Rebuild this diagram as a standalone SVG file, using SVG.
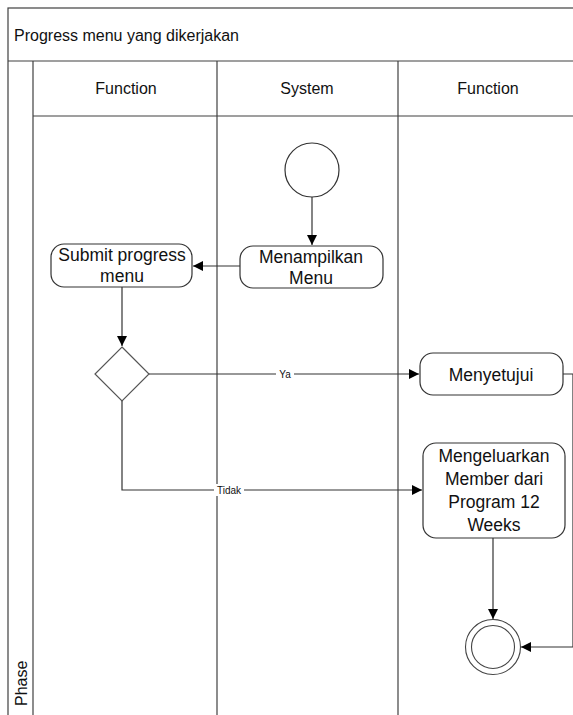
<svg xmlns="http://www.w3.org/2000/svg" width="573" height="715" viewBox="0 0 573 715">
<style>
.frame{fill:none;stroke:#404040;stroke-width:1.2}
.t{font-family:"Liberation Sans",Arial,sans-serif;fill:#111}
.hdr{font-size:16px;text-anchor:middle}
.node{fill:#fff;stroke:#333;stroke-width:1.2}
.nt{font-size:17.5px;text-anchor:middle}
.c{fill:none;stroke:#333;stroke-width:1.2}
.lbl{font-size:10px;text-anchor:middle}
</style>
<defs>
<marker id="ah" viewBox="0 0 10 10" refX="10" refY="5" markerWidth="10" markerHeight="10" markerUnits="userSpaceOnUse" orient="auto">
<path d="M0,0 L10,5 L0,10 z" fill="#000"/>
</marker>
</defs>
<rect width="573" height="715" fill="#fff"/>
<g id="pool">
<rect class="frame" x="8" y="8" width="580" height="720"/>
<line class="frame" x1="8" y1="61" x2="573" y2="61"/>
<line class="frame" x1="33" y1="61" x2="33" y2="715"/>
<line class="frame" x1="33" y1="116" x2="573" y2="116"/>
<line class="frame" x1="217" y1="61" x2="217" y2="715"/>
<line class="frame" x1="398" y1="61" x2="398" y2="715"/>
<text class="t" x="14" y="41" font-size="16">Progress menu yang dikerjakan</text>
<text class="t hdr" x="126" y="94">Function</text>
<text class="t hdr" x="307" y="94">System</text>
<text class="t hdr" x="488" y="94">Function</text>
<text class="t" font-size="16" transform="translate(27,706) rotate(-90)">Phase</text>
</g>
<g id="connectors">
<line class="c" x1="312" y1="197" x2="312" y2="245" marker-end="url(#ah)"/>
<line class="c" x1="240" y1="266" x2="193" y2="266" marker-end="url(#ah)"/>
<line class="c" x1="122" y1="287" x2="122" y2="346" marker-end="url(#ah)"/>
<line class="c" x1="149" y1="374" x2="419" y2="374" marker-end="url(#ah)"/>
<polyline class="c" points="122,401 122,490 422,490" marker-end="url(#ah)"/>
<line class="c" x1="493" y1="538" x2="493" y2="619" marker-end="url(#ah)"/>
<polyline class="c" points="563,374 573,374 573,647 521,647" marker-end="url(#ah)"/>
<rect x="276" y="368" width="18" height="12" fill="#fff"/>
<text class="t lbl" x="285" y="378">Ya</text>
<rect x="214" y="484" width="30" height="12" fill="#fff"/>
<text class="t lbl" x="229" y="494">Tidak</text>
</g>
<g id="start">
<circle class="node" cx="312" cy="170" r="27"/>
</g>
<g id="menampilkan">
<rect class="node" x="240" y="246" width="143" height="42" rx="13"/>
<text class="t nt" x="311" y="263">Menampilkan</text>
<text class="t nt" x="311" y="284">Menu</text>
</g>
<g id="submit">
<rect class="node" x="51" y="244" width="141" height="43" rx="13"/>
<text class="t nt" x="122" y="261">Submit progress</text>
<text class="t nt" x="122" y="282">menu</text>
</g>
<g id="decision">
<polygon points="122,347 149,374 122,401 95,374" fill="#fff" stroke="#555" stroke-width="1.2"/>
</g>
<g id="menyetujui">
<rect class="node" x="420" y="353" width="143" height="42" rx="13"/>
<text class="t nt" x="491" y="381">Menyetujui</text>
</g>
<g id="mengeluarkan">
<rect class="node" x="423" y="443" width="142" height="95" rx="13"/>
<text class="t nt" x="494" y="462">Mengeluarkan</text>
<text class="t nt" x="494" y="485">Member dari</text>
<text class="t nt" x="494" y="508">Program 12</text>
<text class="t nt" x="494" y="531">Weeks</text>
</g>
<g id="end">
<circle cx="493" cy="647" r="27.5" fill="#fff" stroke="#444" stroke-width="1.1"/>
<circle cx="493" cy="647" r="21.5" fill="#fff" stroke="#444" stroke-width="1.1"/>
</g>
</svg>
